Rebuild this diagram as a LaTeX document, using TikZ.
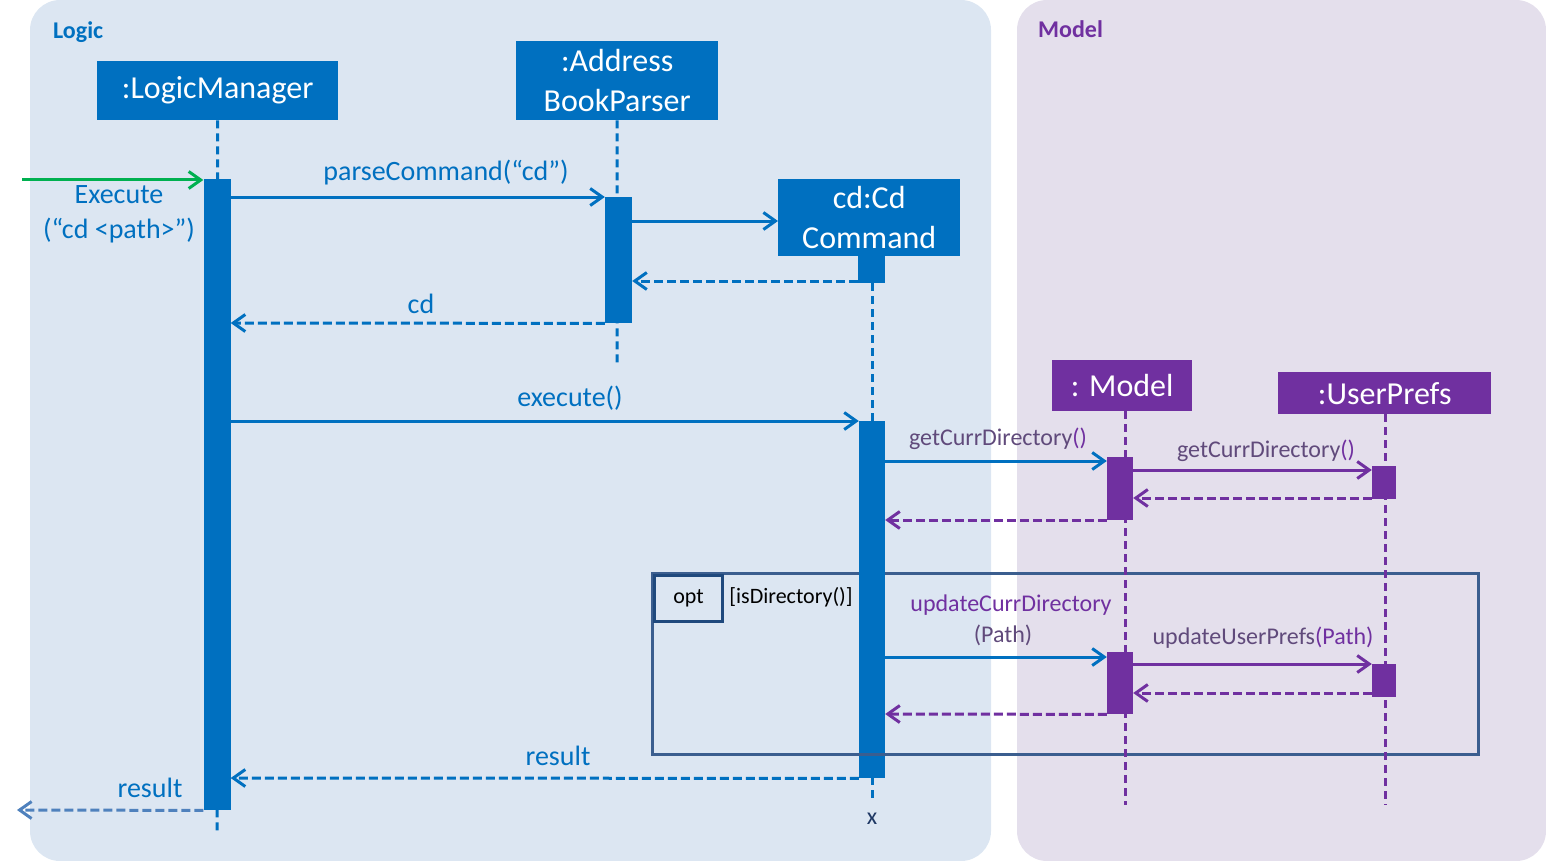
\documentclass[tikz,border=0pt]{standalone}
\usepackage{fontspec}
\setmainfont{Carlito}
\usetikzlibrary{arrows.meta}

\definecolor{logicbg}{HTML}{DCE6F2}
\definecolor{modelbg}{HTML}{E4DFEC}
\definecolor{lblue}{HTML}{0070C0}
\definecolor{lpurple}{HTML}{7030A0}
\definecolor{greypurple}{HTML}{604A7B}
\definecolor{framec}{HTML}{3B5E8F}
\definecolor{optc}{HTML}{1F497D}
\definecolor{greenc}{HTML}{00B050}
\definecolor{outblue}{HTML}{4F81BD}
\definecolor{navy}{HTML}{1F3864}

\tikzset{
  objbox/.style={fill=#1, text=white, inner sep=0, anchor=north west,
                 font=\fontsize{32}{40}\selectfont, align=center},
  act/.style={fill=#1, inner sep=0, minimum width=27, anchor=north},
  life/.style={draw=#1, line width=3, dash pattern=on 8 off 5},
  msg/.style={draw=#1, line width=3, -{Straight Barb[length=12,width=17,line width=3]}},
  ret/.style={msg=#1, dash pattern=on 9 off 4},
  lbl/.style={font=\fontsize{28}{34}\selectfont, text=lblue, inner sep=0},
  slbl/.style={font=\fontsize{24}{30}\selectfont, inner sep=0},
  title/.style={font=\fontsize{24}{28}\selectfont\bfseries, inner sep=0, anchor=west},
}

\begin{document}
\begin{tikzpicture}[x=1pt, y=-1pt]
\useasboundingbox (0,0) rectangle (1546,861);

% background panels
\fill[logicbg, rounded corners=30] (30,0) rectangle (991,861);
\fill[modelbg, rounded corners=30] (1017,0) rectangle (1546,861);
\node[title, text=lblue] (logictitle) at (53,32) {Logic};
\node[title, text=lpurple] (modeltitle) at (1038,29) {Model};

% participants
\node[objbox=lblue, minimum width=241, minimum height=59] (lm) at (97,61) {:LogicManager};
\node[objbox=lblue, minimum width=202, minimum height=79] (abp) at (516,41) {:Address\\BookParser};
\node[objbox=lblue, minimum width=182, minimum height=77] (cd) at (778,179) {cd:Cd\\Command};
\node[objbox=lpurple, minimum width=140, minimum height=51] (model) at (1052,360) {: Model};
\node[objbox=lpurple, minimum width=213, minimum height=42] (up) at (1278,372) {:UserPrefs};

% opt combined fragment (under the lifelines)
\draw[framec, line width=3] (652,573) rectangle (1478,754);

% lifeline end points
\coordinate (lmend) at (217,835);
\coordinate (abpend) at (617,365);
\coordinate (cdend) at (872,800);
\coordinate (modelend) at (1125,805);
\coordinate (upend) at (1385,805);

% lifelines
\draw[life=lblue] (lm.south) -- (lmend);
\draw[life=lblue] (abp.south) -- (abpend);
\draw[life=lblue] (872,283) -- (cdend);
\draw[life=lpurple] (1125,411) -- (modelend);
\draw[life=lpurple] (1385,414) -- (upend);
\node[font=\fontsize{24}{28}\selectfont, text=navy, inner sep=0] (destroy) at (872,819) {x};

% activation bars
\node[act=lblue, minimum height=631] (lma) at (217,179) {};
\node[act=lblue, minimum height=126] (abpa) at (618.5,197) {};
\node[act=lblue, minimum height=27] (cdsmall) at (871.5,256) {};
\node[act=lblue, minimum height=357, minimum width=26] (cda) at (872,421) {};
\node[act=lpurple, minimum height=63, minimum width=26] (ma1) at (1120,457) {};
\node[act=lpurple, minimum height=33, minimum width=24] (ua1) at (1384,466) {};
\node[act=lpurple, minimum height=62, minimum width=26] (ma2) at (1120,652) {};
\node[act=lpurple, minimum height=33, minimum width=24] (ua2) at (1384,664) {};

% bottom edge of the fragment passes over the execute() bar
\draw[framec, line width=3] (cda.west |- 0,754) -- (cda.east |- 0,754);

% fragment label
\node[draw=optc, fill=logicbg, line width=3, minimum width=68, minimum height=46,
      anchor=north west, inner sep=0, font=\fontsize{22}{26}\selectfont] (opt) at (653,574) {opt};
\node[font=\fontsize{22}{26}\selectfont, inner sep=0] (guard) at (791,597) {[isDirectory()]};

% found message
\coordinate (start) at (22,180);
\draw[msg=greenc] (start) -- (lma.west |- 0,180);
\node[lbl, align=center, font=\fontsize{28}{35}\selectfont] (execlbl) at (119,214) {Execute\\(“cd <path>”)};

% parser interaction
\draw[msg=lblue] (lma.east |- 0,197) -- (abpa.north west);
\node[lbl] (parselbl) at (446,173) {parseCommand(“cd”)};
\draw[msg=lblue] (abpa.east |- 0,221) -- (cd.west |- 0,221);
\draw[ret=lblue] (cdsmall.west |- 0,281) -- (abpa.east |- 0,281);
\draw[ret=lblue] (abpa.south west) -- (lma.east |- 0,323);
\node[lbl] (cdlbl) at (421,304) {cd};

% execute
\draw[msg=lblue] (lma.east |- 0,421) -- (cda.north west);
\node[lbl] (execute) at (570,398) {execute()};

% getCurrDirectory
\draw[msg=lblue] (cda.east |- 0,461) -- (ma1.west |- 0,461);
\node[slbl] (getlbl1) at (998,439) {\textcolor{greypurple}{getCurrDirectory}\textcolor{lpurple}{()}};
\draw[msg=lpurple] (ma1.east |- 0,470) -- (ua1.west |- 0,470);
\node[slbl] (getlbl2) at (1266,451) {\textcolor{greypurple}{getCurrDirectory}\textcolor{lpurple}{()}};
\draw[ret=lpurple] (ua1.west |- 0,498) -- (ma1.east |- 0,498);
\draw[ret=lpurple] (ma1.west |- 0,520) -- (cda.east |- 0,520);

% updateCurrDirectory
\draw[msg=lblue] (cda.east |- 0,657) -- (ma2.west |- 0,657);
\node[slbl, text=lpurple] (updlbl1) at (1011,605) {updateCurrDirectory};
\node[slbl, text=greypurple] (updlbl2) at (1003,635) {(Path)};
\draw[msg=lpurple] (ma2.east |- 0,664) -- (ua2.west |- 0,664);
\node[slbl] (uplbl) at (1263,638) {\textcolor{greypurple}{updateUserPrefs}\textcolor{lpurple}{(Path)}};
\draw[ret=lpurple] (ua2.west |- 0,693) -- (ma2.east |- 0,693);
\draw[ret=lpurple] (ma2.south west) -- (cda.east |- 0,714);

% results
\draw[ret=lblue] (cda.south west) -- (lma.east |- 0,778);
\node[lbl] (reslbl1) at (558,756) {result};
\coordinate (finish) at (17,810);
\draw[ret=outblue] (lma.south west) -- (finish);
\node[lbl] (reslbl2) at (150,788) {result};
\end{tikzpicture}
\end{document}
